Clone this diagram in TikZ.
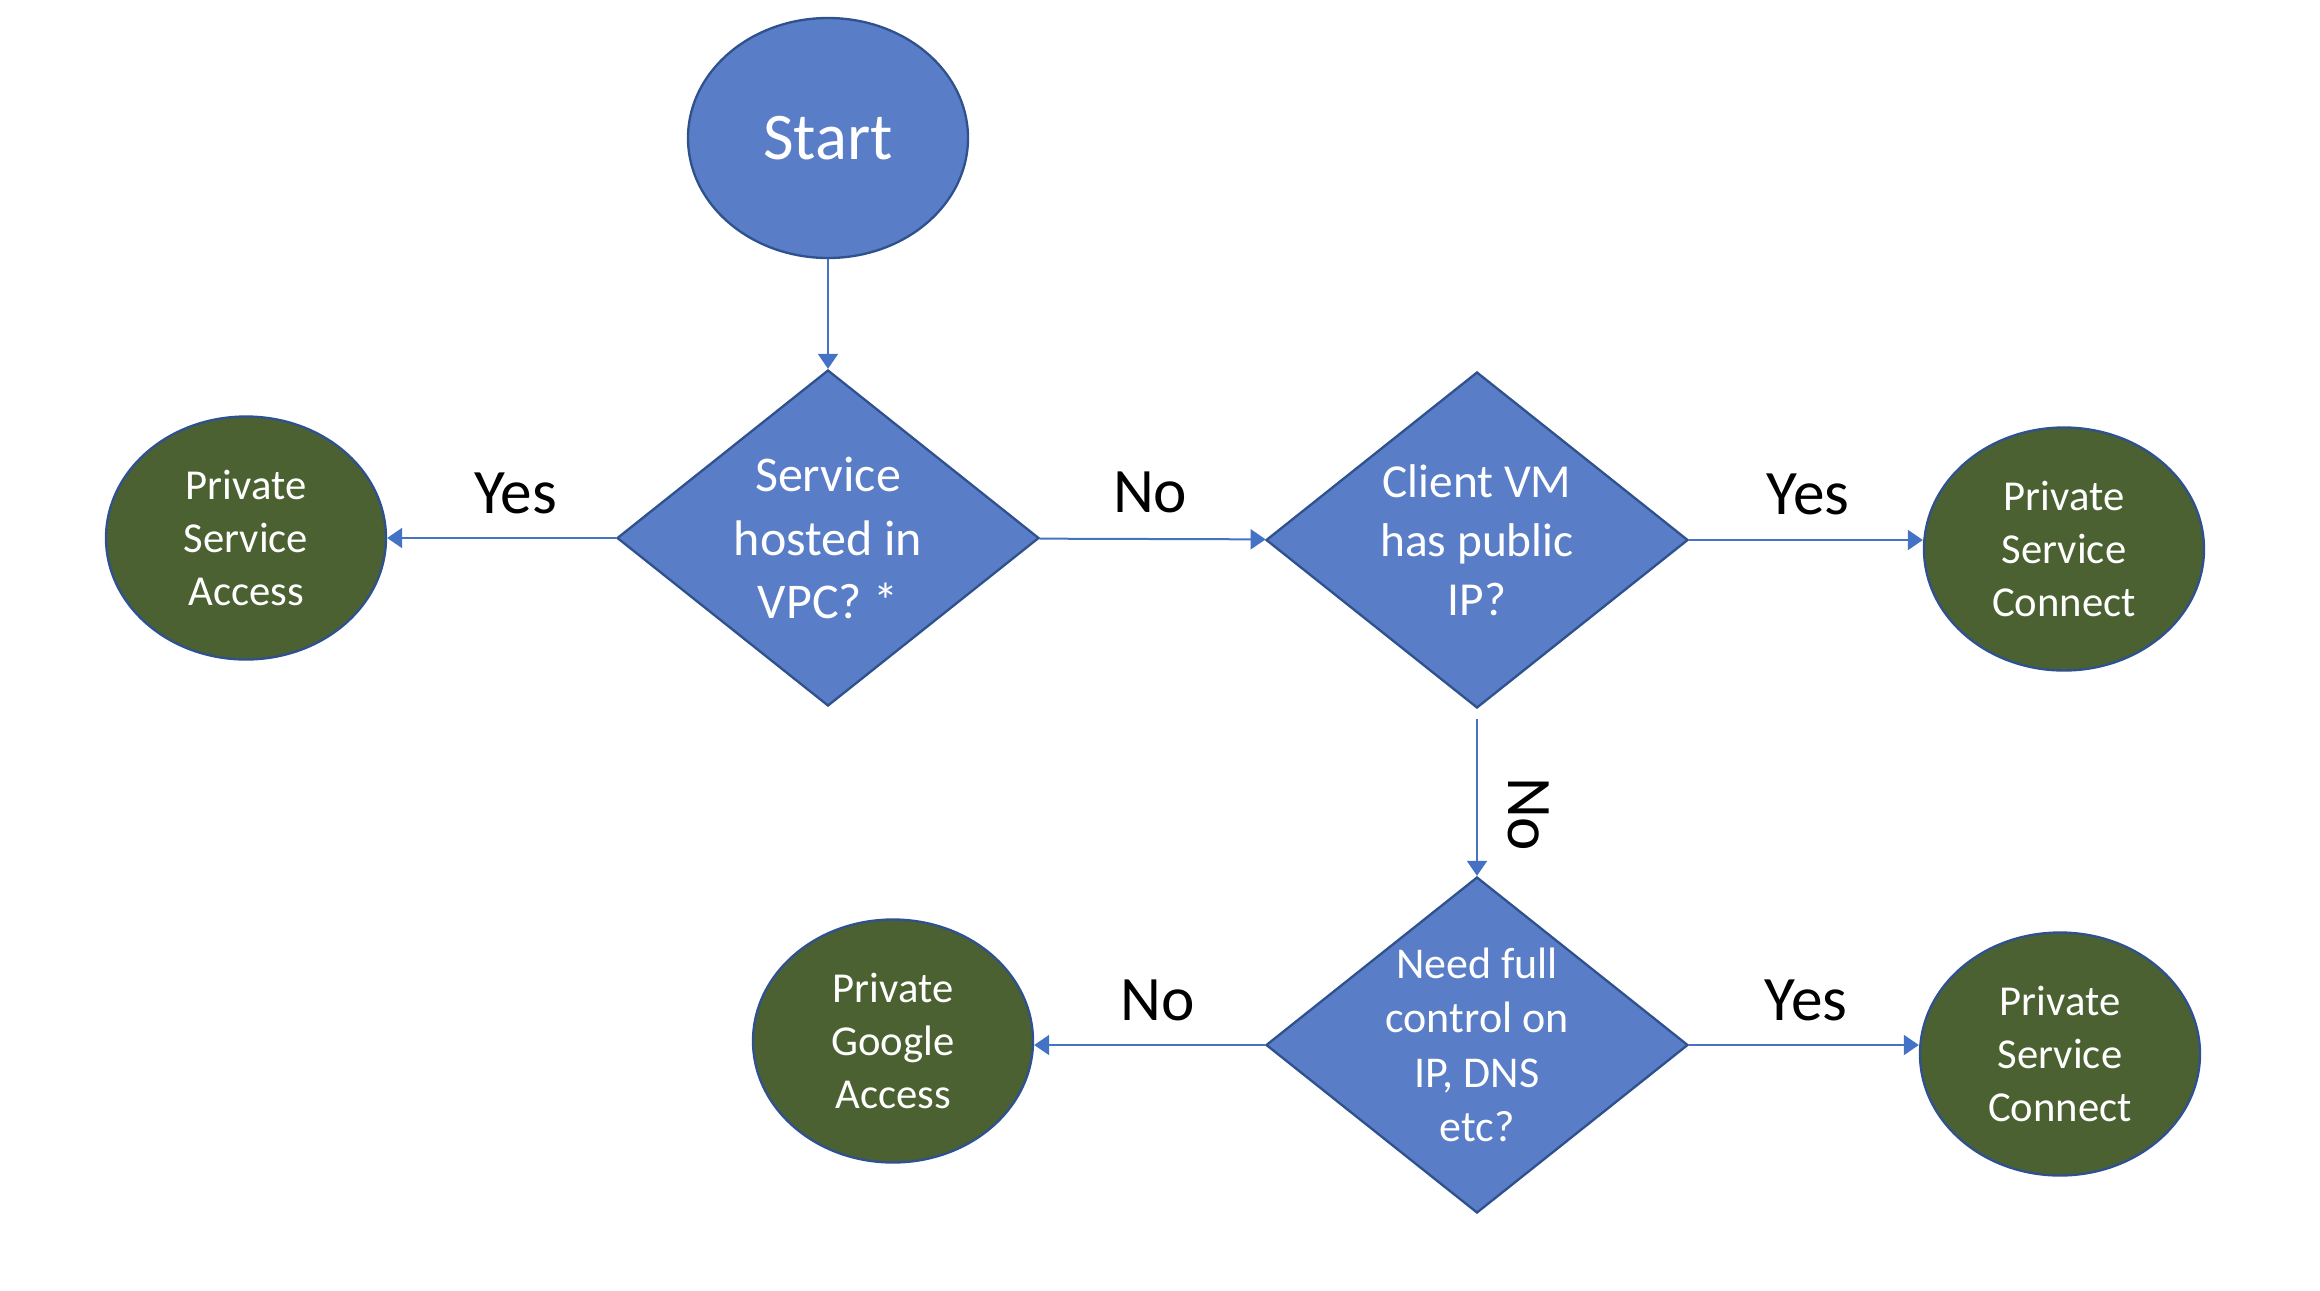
\documentclass[tikz,border=0pt]{standalone}
\usepackage{fontspec}
\setmainfont{Carlito}
\usetikzlibrary{shapes.geometric,arrows.meta}
\definecolor{boxblue}{RGB}{90,125,200}
\definecolor{edgeblue}{RGB}{47,82,143}
\definecolor{linkblue}{RGB}{68,114,196}
\definecolor{okgreen}{RGB}{75,97,50}

\begin{document}
\begin{tikzpicture}[x=0.3pt, y=-0.3pt,
        start/.style={ellipse, draw=edgeblue, line width=0.7pt, fill=boxblue, text=white, minimum width=84pt, minimum height=72pt, inner sep=0pt, font=\fontsize{20}{24}\selectfont},
        decision/.style={diamond, draw=edgeblue, line width=0.7pt, fill=boxblue, text=white, align=center, minimum width=126.6pt, minimum height=100.8pt, inner sep=-4pt},
        result/.style={ellipse, draw=edgeblue, line width=0.7pt, fill=okgreen, text=white, align=center, minimum width=84pt, minimum height=72.9pt, inner sep=0pt, font=\fontsize{12.8}{16}\selectfont},
        flow/.style={draw=linkblue, line width=0.6pt, -{Triangle[width=6pt,length=4.5pt]}},
        lbl/.style={font=\fontsize{19}{23}\selectfont, inner sep=0pt}]
    \useasboundingbox (0,0) rectangle (2320,1290);

    \node[start] (start) at (828,138) {Start};
    \node[decision, font=\fontsize{15}{19}\selectfont] (svc) at (828,538) {Service\\hosted in\\VPC? *};
    \node[result] (psa) at (246,538) {Private\\Service\\Access};
    \node[decision, font=\fontsize{14.2}{17.7}\selectfont] (cvm) at (1477,540) {Client VM\\has public\\IP?};
    \node[result] (psc1) at (2064,549) {Private\\Service\\Connect};
    \node[decision, font=\fontsize{13.2}{16.3}\selectfont] (need) at (1477,1045) {Need full\\control on\\IP, DNS\\etc?};
    \node[result] (pga) at (893,1041) {Private\\Google\\Access};
    \node[result] (psc2) at (2060,1054) {Private\\Service\\Connect};

    \draw[flow] (start) -- (svc);
    \draw[flow] (svc) -- (psa);
    \draw[flow] (svc) -- (cvm);
    \draw[flow] (cvm.east) -- (cvm.east -| psc1.west);
    \draw[flow, shorten <=3pt] (cvm) -- (need);
    \draw[flow] (need.west) -- (need.west -| pga.east);
    \draw[flow] (need.east) -- (need.east -| psc2.west);

    \path (svc.west) -- +(-100,-45) node[lbl] {Yes};
    \path (svc.east) -- +(110,-46) node[lbl] {No};
    \path (cvm.east) -- +(119,-46) node[lbl] {Yes};
    \path (cvm.south) -- +(52,105) node[lbl, rotate=-90] {No};
    \path (need.west) -- +(-107,-45) node[lbl] {No};
    \path (need.east) -- +(117,-45) node[lbl] {Yes};
\end{tikzpicture}
\end{document}
